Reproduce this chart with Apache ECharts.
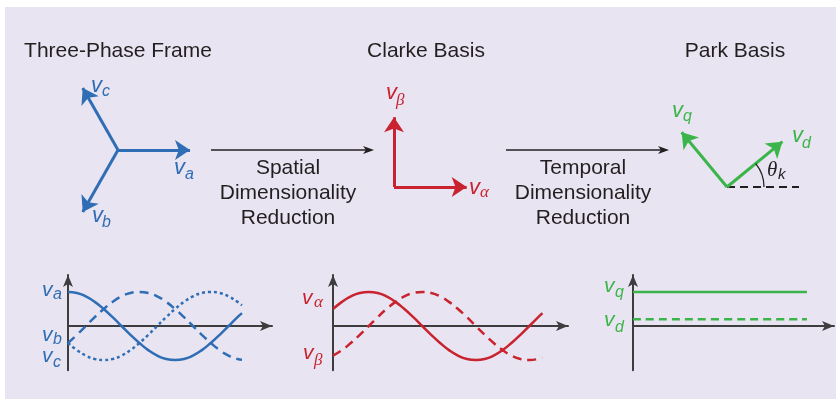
<!DOCTYPE html>
<html><head><meta charset="utf-8">
<script src="https://cdn.jsdelivr.net/npm/echarts@6/dist/echarts.min.js"></script>
<style>html,body{margin:0;padding:0;background:#fff}#c{width:836px;height:399px}</style>
</head><body><div id="c"></div>
<script>
// ---------- DATA ----------
const stageTitles = ['Three-Phase Frame', 'Clarke Basis', 'Park Basis'];
const transformLabels = ['Spatial\nDimensionality\nReduction', 'Temporal\nDimensionality\nReduction'];

// spatial vectors (unit components)
const threePhaseNames = ['a', 'b', 'c'];
const threePhaseX = [1, -0.49, -0.49];
const threePhaseY = [0, -0.86, 0.86];
const clarkeNames = ['α', 'β'];
const clarkeX = [1.01, 0];
const clarkeY = [0, 0.97];
const parkNames = ['d', 'q'];
const parkX = [0.77, -0.63];
const parkY = [0.63, 0.76];
const parkReference = [0, 1.0];

// time waveforms (angle in degrees, per-unit value)
const threePhaseTime = [0, 15, 30, 45, 60, 75, 90, 105, 120, 135, 150, 165, 180, 195, 210, 225, 240, 255, 270, 285, 292.5];
const vaWave = [1, 0.97, 0.87, 0.71, 0.5, 0.26, 0, -0.26, -0.5, -0.71, -0.87, -0.97, -1, -0.97, -0.87, -0.71, -0.5, -0.26, 0, 0.26, 0.38];
const vbWave = [-0.5, -0.26, 0, 0.26, 0.5, 0.71, 0.87, 0.97, 1, 0.97, 0.87, 0.71, 0.5, 0.26, 0, -0.26, -0.5, -0.71, -0.87, -0.97, -0.99];
const vcWave = [-0.5, -0.71, -0.87, -0.97, -1, -0.97, -0.87, -0.71, -0.5, -0.26, 0, 0.26, 0.5, 0.71, 0.87, 0.97, 1, 0.97, 0.87, 0.71, 0.61];

const clarkeTime = [0, 15, 30, 45, 60, 75, 90, 105, 120, 135, 150, 165, 180, 195, 210, 225, 240, 255, 270, 285, 300, 315, 330, 345, 352];
const vAlphaWave = [0.5, 0.71, 0.87, 0.97, 1, 0.97, 0.87, 0.71, 0.5, 0.26, 0, -0.26, -0.5, -0.71, -0.87, -0.97, -1, -0.97, -0.87, -0.71, -0.5, -0.26, 0, 0.26, 0.38];
const vBetaWave = [-0.87, -0.71, -0.5, -0.26, 0, 0.26, 0.5, 0.71, 0.87, 0.97, 1, 0.97, 0.87, 0.71, 0.5, 0.26, 0, -0.26, -0.5, -0.71, -0.87, -0.97, -1, -0.97, -0.93];

const parkTime = [0, 292.5];
const vqWave = [1, 1];
const vdWave = [0.2, 0.2];

// ---------- STYLE ----------
const BLUE = '#2f6db5', RED = '#c8232e', GREEN = '#3bb54a', INK = '#231f20', AXIS = '#3d3d3d';
const SANS = '"Liberation Sans", Arial, sans-serif';
const SERIF = '"Liberation Serif", "Times New Roman", serif';

const chart = echarts.init(document.getElementById('c'), null, {renderer: 'canvas'});

function vecGrid(left, top) { return {left: left, top: top, width: 216, height: 216, containLabel: false}; }
const hiddenAxis = (gi) => ({type: 'value', gridIndex: gi, min: -1.5, max: 1.5, show: false});

function waveAxes(gi, xmax) {
  const line = {show: true, onZero: true, symbol: ['none', 'arrow'], symbolSize: [7.5, 12],
    lineStyle: {color: AXIS, width: 2}};
  return {
    x: {type: 'value', gridIndex: gi, min: 0, max: xmax, axisLine: line, axisTick: {show: false},
        axisLabel: {show: false}, splitLine: {show: false}},
    y: {type: 'value', gridIndex: gi, min: -1.3, max: 1.5, axisLine: line, axisTick: {show: false},
        axisLabel: {show: false}, splitLine: {show: false}}
  };
}
const w1 = waveAxes(3, 343), w2 = waveAxes(4, 395), w3 = waveAxes(5, 338);

function vectorSeries(gi, xs, ys, color) {
  return {
    type: 'lines', coordinateSystem: 'cartesian2d', xAxisIndex: gi, yAxisIndex: gi, z: 5,
    symbol: ['none', 'arrow'], symbolSize: [10, 15],
    lineStyle: {color: color, width: 3, opacity: 1},
    data: xs.map((x, i) => ({coords: [[0, 0], [x, ys[i]]]}))
  };
}
function waveSeries(gi, t, v, color, type) {
  return {
    type: 'line', xAxisIndex: gi, yAxisIndex: gi, smooth: true, showSymbol: false, z: 4,
    lineStyle: {color: color, width: 2.5, type: type},
    data: t.map((x, i) => [x, v[i]])
  };
}

// labels: v with subscript
function vLabel(x, y, sx, sy, sub, color, greek, big) {
  const vs = big ? 22 : 21;
  return [
    {type: 'text', z: 10, style: {text: 'v', x: x, y: y, fill: color, font: 'italic ' + vs + 'px ' + SANS,
      align: 'left', verticalAlign: 'middle', textAlign: 'left', textVerticalAlign: 'middle'}},
    {type: 'text', z: 10, style: {text: sub, x: sx, y: sy, fill: color,
      font: greek ? ('italic 17px ' + SERIF) : ('italic 16px ' + SANS),
      align: 'left', verticalAlign: 'middle', textAlign: 'left', textVerticalAlign: 'middle'}}
  ];
}

const graphics = [
  {type: 'rect', z: -10, shape: {x: 5, y: 7, width: 831, height: 392}, style: {fill: '#e8e4f1'}},
  // titles
  ...stageTitles.map((t, i) => ({type: 'text', z: 10, style: {text: t, x: [118, 426, 735][i], y: 51,
    fill: INK, font: '21px ' + SANS, align: 'center', verticalAlign: 'middle',
    textAlign: 'center', textVerticalAlign: 'middle'}})),
  // transform captions
  ...transformLabels.map((t, i) => ({type: 'text', z: 10, style: {text: t, x: [288, 583][i], y: 193.5,
    fill: INK, font: '21px ' + SANS, lineHeight: 25, align: 'center', verticalAlign: 'middle',
    textAlign: 'center', textVerticalAlign: 'middle'}})),
  // transform arrows
  {type: 'line', shape: {x1: 211, y1: 150, x2: 366, y2: 150}, style: {stroke: INK, lineWidth: 1.3}},
  {type: 'polygon', shape: {points: [[374, 150], [363, 146], [366, 150], [363, 154]]}, style: {fill: INK}},
  {type: 'line', shape: {x1: 506, y1: 150, x2: 661, y2: 150}, style: {stroke: INK, lineWidth: 1.3}},
  {type: 'polygon', shape: {points: [[669, 150], [658, 146], [661, 150], [658, 154]]}, style: {fill: INK}},
  // angle arc
  {type: 'arc', z: 10, shape: {cx: 727, cy: 187, r: 37, startAngle: -39 * Math.PI / 180, endAngle: 0, clockwise: true},
    style: {stroke: INK, fill: null, lineWidth: 1.3}},
  {type: 'text', z: 10, style: {text: 'θ', x: 767, y: 170, fill: INK, font: 'italic 21px ' + SERIF,
    align: 'left', verticalAlign: 'middle', textAlign: 'left', textVerticalAlign: 'middle'}},
  {type: 'text', z: 10, style: {text: 'k', x: 778, y: 175, fill: INK, font: 'italic 15px ' + SANS,
    align: 'left', verticalAlign: 'middle', textAlign: 'left', textVerticalAlign: 'middle'}},
  // vector labels
  ...vLabel(91, 86, 102, 92, threePhaseNames[2], BLUE, false, true),
  ...vLabel(174, 168, 185, 175, threePhaseNames[0], BLUE, false, true),
  ...vLabel(92, 216, 102, 223, threePhaseNames[1], BLUE, false, true),
  ...vLabel(386, 93, 396, 101, clarkeNames[1], RED, true, true),
  ...vLabel(469, 188, 480, 193, clarkeNames[0], RED, true, true),
  ...vLabel(672, 111, 683, 117, parkNames[1], GREEN, false, true),
  ...vLabel(792, 136, 802, 144, parkNames[0], GREEN, false, true),
  // waveform labels
  ...vLabel(42, 290, 53, 295, 'a', BLUE, false, false),
  ...vLabel(42, 335, 53, 340, 'b', BLUE, false, false),
  ...vLabel(42, 356, 53, 363, 'c', BLUE, false, false),
  ...vLabel(302, 298, 314, 303, 'α', RED, true, false),
  ...vLabel(303, 353, 314, 361, 'β', RED, true, false),
  ...vLabel(604, 286, 615, 293, 'q', GREEN, false, false),
  ...vLabel(604, 320, 615, 328, 'd', GREEN, false, false)
];

const option = {
  backgroundColor: '#ffffff',
  animation: false,
  grid: [
    vecGrid(10, 42), vecGrid(286, 79), vecGrid(619, 79),
    {left: 68, top: 275, width: 204, height: 95.2},
    {left: 333, top: 275, width: 235, height: 95.2},
    {left: 633, top: 275, width: 201, height: 95.2}
  ],
  xAxis: [hiddenAxis(0), hiddenAxis(1), hiddenAxis(2), w1.x, w2.x, w3.x],
  yAxis: [hiddenAxis(0), hiddenAxis(1), hiddenAxis(2), w1.y, w2.y, w3.y],
  series: [
    vectorSeries(0, threePhaseX, threePhaseY, BLUE),
    vectorSeries(1, clarkeX, clarkeY, RED),
    {
      type: 'lines', coordinateSystem: 'cartesian2d', xAxisIndex: 2, yAxisIndex: 2, z: 3,
      symbol: ['none', 'none'],
      lineStyle: {color: INK, width: 2, type: [8, 5], opacity: 1},
      data: [{coords: [[parkReference[0], 0], [parkReference[1], 0]]}]
    },
    vectorSeries(2, parkX, parkY, GREEN),
    waveSeries(3, threePhaseTime, vaWave, BLUE, 'solid'),
    waveSeries(3, threePhaseTime, vbWave, BLUE, [9, 6]),
    waveSeries(3, threePhaseTime, vcWave, BLUE, [3, 3]),
    waveSeries(4, clarkeTime, vAlphaWave, RED, 'solid'),
    waveSeries(4, clarkeTime, vBetaWave, RED, [9, 6]),
    waveSeries(5, parkTime, vqWave, GREEN, 'solid'),
    waveSeries(5, parkTime, vdWave, GREEN, [8, 5])
  ],
  graphic: graphics
};
chart.setOption(option);
</script></body></html>
